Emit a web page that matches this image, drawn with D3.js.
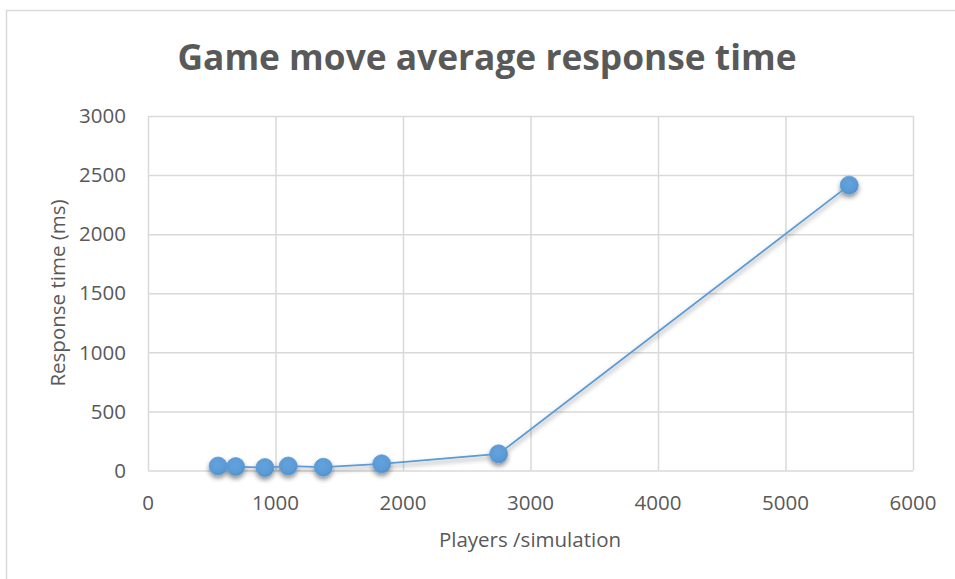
<!DOCTYPE html>
<html><head><meta charset="utf-8">
<script src="https://cdn.jsdelivr.net/npm/d3@7"></script>
<style>body{margin:0;background:#fff}svg{display:block}</style>
</head><body>
<svg id="c" width="955" height="579"></svg>
<script>
const players = [550, 687.5, 917, 1100, 1375, 1833, 2750, 5500];
const responseMs = [38, 33, 25, 38, 28, 57, 141, 2415];
const xTicks = [0, 1000, 2000, 3000, 4000, 5000, 6000];
const yTicks = [0, 500, 1000, 1500, 2000, 2500, 3000];
const title = "Game move average response time";
const xTitle = "Players /simulation";
const yTitle = "Response time (ms)";

const svg = d3.select("#c");
const font = "'Open Sans', 'Liberation Sans', sans-serif";
const grey = "#595959";
const fs = 20.5;
const L = 148, R = 913, T = 116, B = 470.5;
const x = d3.scaleLinear().domain([0, 6000]).range([L, R]);
const y = d3.scaleLinear().domain([0, 3000]).range([B, T]);

const defs = svg.append("defs");
const f = defs.append("filter").attr("id","sh").attr("x","-50%").attr("y","-50%").attr("width","200%").attr("height","200%");
f.append("feGaussianBlur").attr("in","SourceAlpha").attr("stdDeviation",2.5).attr("result","b");
f.append("feOffset").attr("in","b").attr("dx",0).attr("dy",3).attr("result","o");
f.append("feComponentTransfer").attr("in","o").attr("result","o2").append("feFuncA").attr("type","linear").attr("slope",0.45);
const m = f.append("feMerge"); m.append("feMergeNode").attr("in","o2"); m.append("feMergeNode").attr("in","SourceGraphic");
const rg = defs.append("radialGradient").attr("id","mg").attr("cx","45%").attr("cy","40%").attr("r","60%");
rg.append("stop").attr("offset","0%").attr("stop-color","#62a3de");
rg.append("stop").attr("offset","80%").attr("stop-color","#5a99d4");
rg.append("stop").attr("offset","100%").attr("stop-color","#4e8bc6");

// chart border
svg.append("rect").attr("x",6.5).attr("y",10.5).attr("width",960).attr("height",600)
  .attr("fill","#fff").attr("stroke","#d9d9d9").attr("stroke-width",1.5);

// gridlines
svg.append("g").attr("transform",`translate(0,${B})`)
  .call(d3.axisBottom(x).tickValues(xTicks).tickSize(-(B-T)).tickFormat(""))
  .call(g=>{g.select(".domain").remove();g.selectAll("line").attr("stroke","#d9d9d9").attr("stroke-width",1.5);});
svg.append("g").attr("transform",`translate(${L},0)`)
  .call(d3.axisLeft(y).tickValues(yTicks).tickSize(-(R-L)).tickFormat(""))
  .call(g=>{g.select(".domain").remove();g.selectAll("line").attr("stroke","#d9d9d9").attr("stroke-width",1.5);});

// tick labels
svg.append("g").selectAll("text").data(yTicks).join("text")
  .attr("x",126).attr("y",d=>y(d)).attr("dy","0.35em").attr("text-anchor","end")
  .attr("font-family",font).attr("font-size",fs).attr("fill",grey).text(d=>d);
svg.append("g").selectAll("text").data(xTicks).join("text")
  .attr("x",d=>x(d)).attr("y",503).attr("dy","0.35em").attr("text-anchor","middle")
  .attr("font-family",font).attr("font-size",fs).attr("fill",grey).text(d=>d);

// titles
svg.append("text").attr("x",487).attr("y",58).attr("dy","0.35em").attr("text-anchor","middle")
  .attr("font-family",font).attr("font-weight","bold").attr("font-size",35).attr("fill",grey)
  .attr("textLength",619).attr("lengthAdjust","spacingAndGlyphs").text(title);
svg.append("text").attr("x",530).attr("y",540).attr("dy","0.35em").attr("text-anchor","middle")
  .attr("font-family",font).attr("font-size",fs).attr("fill",grey).text(xTitle);
svg.append("text").attr("transform","translate(58,293) rotate(-90)").attr("dy","0.35em").attr("text-anchor","middle")
  .attr("font-family",font).attr("font-size",fs).attr("fill",grey).text(yTitle);

// series
const data = players.map((p,i)=>({p, v: responseMs[i]}));
const g = svg.append("g").attr("filter","url(#sh)");
g.append("path").datum(data)
  .attr("d", d3.line().x(d=>x(d.p)).y(d=>y(d.v)))
  .attr("fill","none").attr("stroke","#5b9bd5").attr("stroke-width",1.75);
g.selectAll("circle").data(data).join("circle")
  .attr("cx",d=>x(d.p)).attr("cy",d=>y(d.v)).attr("r",9)
  .attr("fill","url(#mg)").attr("stroke","#5b9bd5").attr("stroke-width",0.75);
</script>
</body></html>
